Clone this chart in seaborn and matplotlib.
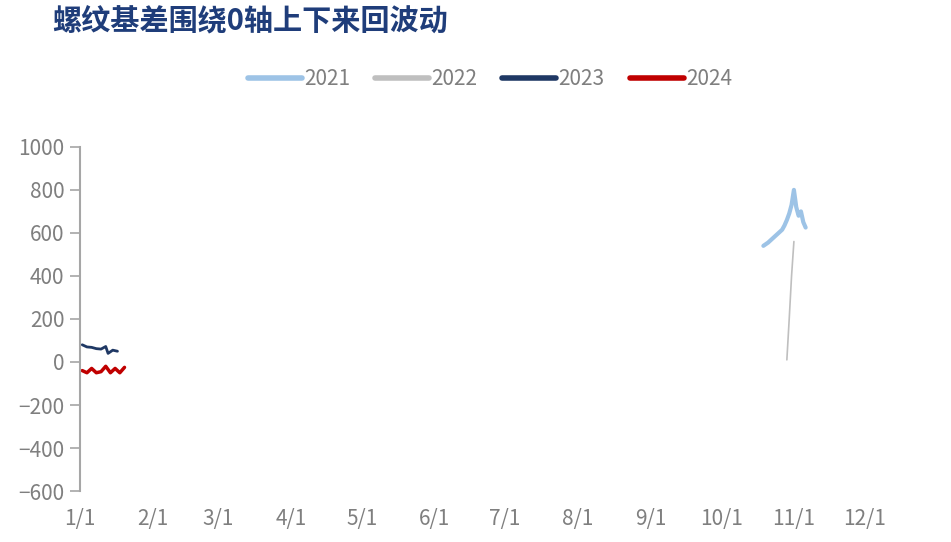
import pandas as pd
import matplotlib.pyplot as plt
import matplotlib.dates as mdates
import seaborn as sns

# visible fragments of each season's basis (day/month on a common calendar)
dates_2021 = ['10-19', '10-21', '10-23', '10-25', '10-27', '10-28', '10-29', '10-30',
              '10-31', '11-01', '11-02', '11-03', '11-04', '11-05', '11-06']
values_2021 = [540, 555, 575, 595, 615, 635, 660, 690, 730, 800, 720, 680, 700, 650, 625]

dates_2022 = ['10-29', '10-30', '10-31', '11-01']
values_2022 = [10, 200, 400, 560]

dates_2023 = ['01-02', '01-04', '01-06', '01-08', '01-10', '01-12', '01-13', '01-15', '01-17']
values_2023 = [80, 70, 68, 62, 60, 72, 40, 55, 50]

dates_2024 = ['01-02', '01-04', '01-06', '01-08', '01-10', '01-12', '01-14', '01-16', '01-18', '01-20']
values_2024 = [-40, -50, -30, -50, -45, -20, -50, -30, -50, -25]

years = ['2021', '2022', '2023', '2024']
colors = ['#9dc3e6', '#bfbfbf', '#1f3864', '#c00000']
widths = [3.0, 1.2, 2.0, 2.5]

frames = []
for yr, d, v in zip(years, [dates_2021, dates_2022, dates_2023, dates_2024],
                    [values_2021, values_2022, values_2023, values_2024]):
    frames.append(pd.DataFrame({'date': pd.to_datetime(['2021-' + s for s in d]),
                                'basis': v, 'year': yr}))
df = pd.concat(frames, ignore_index=True)

sns.set_style('white')
plt.rcParams['font.family'] = ['Noto Sans CJK SC', 'DejaVu Sans']

fig = plt.figure(figsize=(9.51, 5.42), dpi=100)
ax = fig.add_axes([0.084, 0.094, 0.899, 0.635])

for yr, c, w in zip(years, colors, widths):
    sns.lineplot(data=df[df['year'] == yr], x='date', y='basis', color=c,
                 linewidth=w, ax=ax, label=yr)

ax.set_xlim(pd.Timestamp('2021-01-01'), pd.Timestamp('2021-12-31'))
ax.set_ylim(-600, 1000)
ax.set_yticks(range(-600, 1001, 200))
ax.xaxis.set_major_locator(mdates.MonthLocator())
ax.xaxis.set_major_formatter(mdates.DateFormatter('%-m/%-d'))
ax.set_xlabel('')
ax.set_ylabel('')

for s in ['top', 'right', 'bottom']:
    ax.spines[s].set_visible(False)
ax.spines['left'].set_color('#a6a6a6')
ax.spines['left'].set_linewidth(1.5)
ax.tick_params(axis='y', left=True, direction='out', length=7, width=1.2,
               color='#a6a6a6', labelsize=15, labelcolor='#7f7f7f', pad=4)
ax.tick_params(axis='x', bottom=False, length=0, labelsize=15,
               labelcolor='#7f7f7f', pad=12)

leg = ax.legend(loc='center', bbox_to_anchor=(0.515, 0.854),
                bbox_transform=fig.transFigure, ncol=4, frameon=False, fontsize=15,
                handlelength=2.6, handletextpad=0.1, columnspacing=1.2,
                labelcolor='#7f7f7f')
for line in leg.get_lines():
    line.set_linewidth(4)

fig.text(0.055, 0.962, '螺纹基差围绕0轴上下来回波动', fontsize=21, fontweight='bold',
         color='#1f3d7a', va='center', ha='left')

plt.savefig('out.png', dpi=100)
plt.close()
